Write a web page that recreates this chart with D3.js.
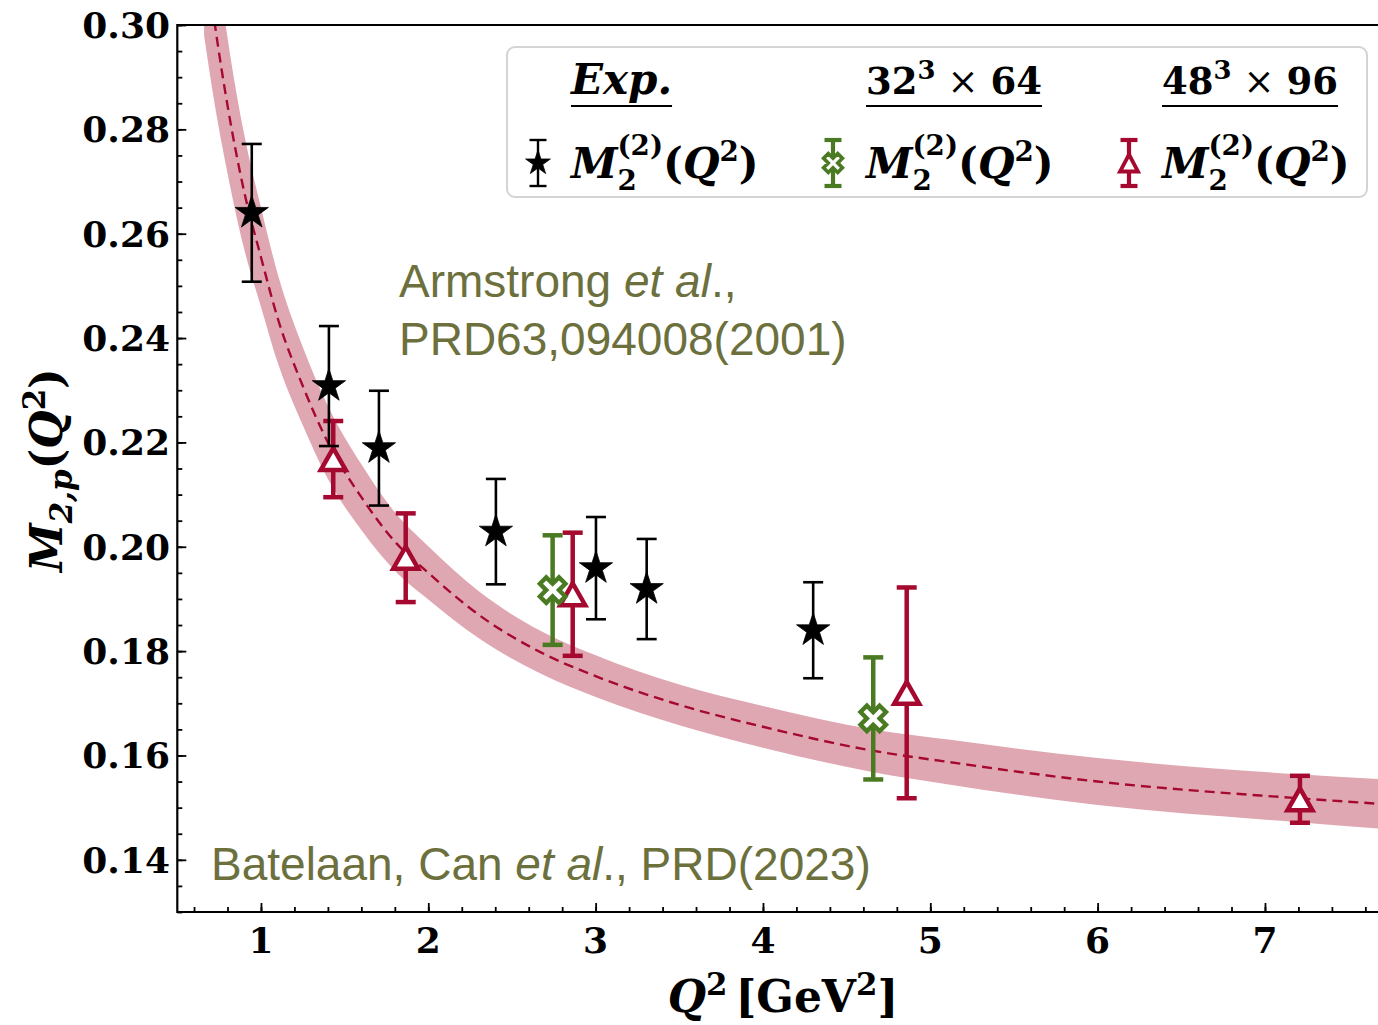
<!DOCTYPE html>
<html>
<head>
<meta charset="utf-8">
<script src="https://cdn.jsdelivr.net/npm/d3@7"></script>
<style>
  body { margin: 0; background: #fff; }
  svg { display: block; }
</style>
</head>
<body>
<svg id="chart" width="1378" height="1025"></svg>
<script>
// ---- Experimental moments (Armstrong et al., PRD63, 094008) ----
const expQ2  = [0.945, 1.406, 1.705, 2.404, 3.002, 3.305, 4.300];
const expM   = [0.2640, 0.2308, 0.2189, 0.2029, 0.1959, 0.1919, 0.1840];
const expErr = [0.0132, 0.0115, 0.0110, 0.0101, 0.0098, 0.0096, 0.0092];

// ---- Lattice, 32^3 x 64 ----
const l32Q2  = [2.743, 4.659];
const l32M   = [0.1917, 0.1671];
const l32Err = [0.0105, 0.0117];

// ---- Lattice, 48^3 x 96 ----
const l48Q2  = [1.432, 1.865, 2.863, 4.859, 7.209];
const l48M   = [0.2168, 0.1979, 0.1909, 0.1720, 0.1516];
const l48Err = [0.0073, 0.0085, 0.0118, 0.0202, 0.0045];

// ---- Fitted curve with its uncertainty band ----
const bandQ2  = [0.66, 0.725, 0.80, 0.90, 1.00, 1.10, 1.25, 1.40, 1.60, 1.80, 2.00, 2.30, 2.67, 3.00, 3.50, 4.00, 4.66, 5.12, 6.00, 7.20, 7.80];
const bandMid = [0.3160, 0.3000, 0.2846, 0.2680, 0.2555, 0.2438, 0.2308, 0.2200, 0.2095, 0.2010, 0.1950, 0.1870, 0.1798, 0.1752, 0.1697, 0.1655, 0.1609, 0.1587, 0.1550, 0.1518, 0.1505];
const bandLo  = [0.2980, 0.2845, 0.2716, 0.2570, 0.2460, 0.2353, 0.2233, 0.2130, 0.2032, 0.1954, 0.1899, 0.1825, 0.1757, 0.1712, 0.1658, 0.1615, 0.1568, 0.1544, 0.1505, 0.1472, 0.1457];
const bandHi  = [0.3340, 0.3155, 0.2976, 0.2790, 0.2650, 0.2523, 0.2383, 0.2270, 0.2158, 0.2066, 0.2001, 0.1915, 0.1839, 0.1792, 0.1736, 0.1695, 0.1650, 0.1630, 0.1595, 0.1564, 0.1553];

// ---- Axis ticks ----
const xTicks = [1, 2, 3, 4, 5, 6, 7];
const xTickLabels = ["1", "2", "3", "4", "5", "6", "7"];
const yTicks = [0.14, 0.16, 0.18, 0.20, 0.22, 0.24, 0.26, 0.28, 0.30];
const yTickLabels = ["0.14", "0.16", "0.18", "0.20", "0.22", "0.24", "0.26", "0.28", "0.30"];

// ---- Colours ----
const RED = "#a6092f";
const GREEN = "#4a7b22";
const BAND = "#dfa7b2";
const OLIVE = "#6c703d";
const SERIF = "'DejaVu Serif', serif";
const SANS = "'Liberation Sans', Arial, sans-serif";

const svg = d3.select("#chart");

const x = d3.scaleLinear().domain([0.5, 8.0]).range([177.3, 1432.3]);
const y = d3.scaleLinear().domain([0.13, 0.30]).range([912, 25]);

const plotL = x(0.5), plotR = x(8.0), plotT = y(0.30), plotB = y(0.13);

svg.append("defs").append("clipPath").attr("id", "plotclip")
  .append("rect").attr("x", plotL).attr("y", plotT)
  .attr("width", plotR - plotL).attr("height", plotB - plotT);

const plot = svg.append("g").attr("clip-path", "url(#plotclip)");

// band and central curve
const band = bandQ2.map((q, i) => ({ q, lo: bandLo[i], hi: bandHi[i], mid: bandMid[i] }));
plot.append("path")
  .datum(band)
  .attr("fill", BAND)
  .attr("d", d3.area().curve(d3.curveMonotoneX)
    .x(d => x(d.q)).y0(d => y(d.lo)).y1(d => y(d.hi)));

plot.append("path")
  .datum(band)
  .attr("fill", "none")
  .attr("stroke", RED)
  .attr("stroke-width", 2.4)
  .attr("stroke-dasharray", "10,6")
  .attr("d", d3.line().curve(d3.curveMonotoneX).x(d => x(d.q)).y(d => y(d.mid)));

// ---- marker shapes ----
function starPath(R) {
  const r = R * 0.382;
  const pts = [];
  for (let k = 0; k < 10; k++) {
    const a = -Math.PI / 2 + k * Math.PI / 5;
    const rr = k % 2 === 0 ? R : r;
    pts.push([rr * Math.cos(a), rr * Math.sin(a)]);
  }
  return "M" + pts.map(p => p[0].toFixed(2) + "," + p[1].toFixed(2)).join("L") + "Z";
}
function xFilledPath(s) {
  const base = [[-1, -3], [1, -3], [1, -1], [3, -1], [3, 1], [1, 1], [1, 3], [-1, 3], [-1, 1], [-3, 1], [-3, -1], [-1, -1]];
  const c = Math.SQRT1_2;
  const pts = base.map(([a, b]) => [(a - b) * c * s / 6, (a + b) * c * s / 6]);
  return "M" + pts.map(p => p[0].toFixed(2) + "," + p[1].toFixed(2)).join("L") + "Z";
}
function trianglePath(hw, hh) {
  return `M0,${-hh}L${hw},${hh}L${-hw},${hh}Z`;
}

function drawSeries(g, qs, ms, errs, opt) {
  const pts = qs.map((q, i) => ({ q, m: ms[i], e: errs[i] }));
  const grp = g.append("g");
  const eb = grp.selectAll("g.eb").data(pts).join("g").attr("class", "eb");
  eb.append("line")
    .attr("x1", d => x(d.q)).attr("x2", d => x(d.q))
    .attr("y1", d => y(d.m - d.e)).attr("y2", d => y(d.m + d.e))
    .attr("stroke", opt.color).attr("stroke-width", opt.lw);
  [-1, 1].forEach(sg => {
    eb.append("line")
      .attr("x1", d => x(d.q) - opt.cap).attr("x2", d => x(d.q) + opt.cap)
      .attr("y1", d => y(d.m + sg * d.e)).attr("y2", d => y(d.m + sg * d.e))
      .attr("stroke", opt.color).attr("stroke-width", opt.capw);
  });
  eb.append("path")
    .attr("transform", d => `translate(${x(d.q)},${y(d.m)})`)
    .attr("d", opt.path)
    .attr("fill", opt.fill).attr("stroke", opt.stroke).attr("stroke-width", opt.sw)
    .attr("stroke-linejoin", "miter");
}

const dataLayer = svg.append("g");
drawSeries(dataLayer, l48Q2, l48M, l48Err,
  { color: RED, lw: 4.5, cap: 10, capw: 4.5, path: trianglePath(12.5, 11), fill: "#fff", stroke: RED, sw: 4.5 });
drawSeries(dataLayer, l32Q2, l32M, l32Err,
  { color: GREEN, lw: 4.5, cap: 10, capw: 4.5, path: xFilledPath(27), fill: "#fff", stroke: GREEN, sw: 4.4 });
drawSeries(dataLayer, expQ2, expM, expErr,
  { color: "#000", lw: 2.6, cap: 10, capw: 2.6, path: starPath(17.5), fill: "#000", stroke: "#000", sw: 0.8 });

// ---- axes ----
const axisG = svg.append("g");
const yMinor = d3.range(0.13, 0.3001, 0.005);
const xMinor = d3.range(0.6, 7.81, 0.2);

axisG.append("g").attr("transform", `translate(${plotL},0)`)
  .call(d3.axisLeft(y).tickValues(yMinor).tickSize(-5).tickSizeOuter(0).tickFormat(""))
  .call(g => g.select(".domain").remove());
axisG.append("g").attr("transform", `translate(${plotL},0)`)
  .call(d3.axisLeft(y).tickValues(yTicks).tickSize(-9).tickSizeOuter(0).tickFormat(""))
  .call(g => g.select(".domain").remove());
axisG.append("g").attr("transform", `translate(0,${plotB})`)
  .call(d3.axisBottom(x).tickValues(xMinor).tickSize(-5).tickSizeOuter(0).tickFormat(""))
  .call(g => g.select(".domain").remove());
axisG.append("g").attr("transform", `translate(0,${plotB})`)
  .call(d3.axisBottom(x).tickValues(xTicks).tickSize(-9).tickSizeOuter(0).tickFormat(""))
  .call(g => g.select(".domain").remove());
axisG.selectAll(".tick line").attr("stroke", "#000").attr("stroke-width", 1.8);

// spines
axisG.append("path")
  .attr("d", `M${plotR},${plotT}H${plotL}V${plotB}H${plotR}`)
  .attr("fill", "none").attr("stroke", "#000").attr("stroke-width", 2.2);

// tick labels
axisG.selectAll("text.ytl").data(yTicks).join("text").attr("class", "ytl")
  .attr("x", 170).attr("y", d => y(d)).attr("dy", "0.36em")
  .attr("text-anchor", "end")
  .attr("font-family", SERIF).attr("font-weight", "bold").attr("font-size", 36)
  .text((d, i) => yTickLabels[i]);
axisG.selectAll("text.xtl").data(xTicks).join("text").attr("class", "xtl")
  .attr("x", d => x(d)).attr("y", 953)
  .attr("text-anchor", "middle")
  .attr("font-family", SERIF).attr("font-weight", "bold").attr("font-size", 36)
  .text((d, i) => xTickLabels[i]);

// ---- math-like text layout: pieces placed one after another ----
function mathText(parent, px, py, parts, base, anchor) {
  const g = parent.append("g");
  let cur = 0, stackX = 0, stackW = 0;
  parts.forEach(p => {
    const fs = base * (p.s || 1);
    const px0 = p.stack === "b" ? stackX : cur;
    const t = g.append("text")
      .attr("x", px0 + (p.dx || 0)).attr("y", p.dy || 0)
      .attr("font-family", SERIF).attr("font-weight", p.w || "bold")
      .attr("font-style", p.it ? "italic" : "normal")
      .attr("font-size", fs)
      .text(p.t);
    const w = t.node().getComputedTextLength() + (p.dx || 0) + (p.kern || 0);
    if (p.stack === "a") { stackX = cur; stackW = w; }
    else if (p.stack === "b") { cur = stackX + Math.max(stackW, w); }
    else { cur += w; }
  });
  const shift = anchor === "middle" ? -cur / 2 : 0;
  g.attr("transform", `translate(${px + shift},${py})`);
  return { g, width: cur };
}

// x-axis label
mathText(svg, 783, 1012, [
  { t: "Q", it: true },
  { t: "2", s: 0.7, dy: -17, kern: 8 },
  { t: "[GeV" },
  { t: "2", s: 0.7, dy: -17 },
  { t: "]" }
], 44, "middle");

// y-axis label (rotated)
const ylab = svg.append("g").attr("transform", "translate(62,470) rotate(-90)");
mathText(ylab, 0, 0, [
  { t: "M", it: true },
  { t: "2,p", s: 0.7, dy: 10, it: true },
  { t: "(" },
  { t: "Q", it: true },
  { t: "2", s: 0.7, dy: -17 },
  { t: ")" }
], 44, "middle");

// ---- annotations ----
const ann = svg.append("g").attr("fill", OLIVE).attr("font-family", SANS).attr("font-size", 46);
const a1 = ann.append("text").attr("x", 399).attr("y", 297);
a1.append("tspan").text("Armstrong ");
a1.append("tspan").attr("font-style", "italic").text("et al");
a1.append("tspan").text(".,");
ann.append("text").attr("x", 399).attr("y", 355).text("PRD63,094008(2001)");
const a2 = ann.append("text").attr("x", 211).attr("y", 880);
a2.append("tspan").text("Batelaan, Can ");
a2.append("tspan").attr("font-style", "italic").text("et al");
a2.append("tspan").text("., PRD(2023)");

// ---- legend ----
const leg = svg.append("g");
leg.append("rect").attr("x", 507).attr("y", 47).attr("width", 860).attr("height", 150)
  .attr("rx", 8).attr("fill", "#fff").attr("fill-opacity", 0.9)
  .attr("stroke", "#d4d4d4").attr("stroke-width", 2);

const legendTitles = [
  [{ t: "Exp.", it: true }],
  [{ t: "32" }, { t: "3", s: 0.7, dy: -15, kern: 12 }, { t: "×", w: "normal", kern: 12 }, { t: "64" }],
  [{ t: "48" }, { t: "3", s: 0.7, dy: -15, kern: 12 }, { t: "×", w: "normal", kern: 12 }, { t: "96" }]
];
const legendTextX = [571, 866, 1162];
const legendMarkX = [538, 833, 1129];
const legendOpts = [
  { color: "#000", lw: 2.4, capw: 2.4, path: starPath(13), fill: "#000", stroke: "#000", sw: 0.8 },
  { color: GREEN, lw: 4.2, capw: 4.2, path: xFilledPath(20), fill: "#fff", stroke: GREEN, sw: 3.6 },
  { color: RED, lw: 4.2, capw: 4.2, path: trianglePath(9, 8.5), fill: "#fff", stroke: RED, sw: 3.8 }
];
legendTitles.forEach((parts, i) => {
  const r = mathText(leg, legendTextX[i], 94, parts, i === 0 ? 42 : 37, "start");
  leg.append("line")
    .attr("x1", legendTextX[i]).attr("x2", legendTextX[i] + r.width)
    .attr("y1", 106).attr("y2", 106)
    .attr("stroke", "#000").attr("stroke-width", 2.2);

  mathText(leg, legendTextX[i], 178, [
    { t: "M", it: true },
    { t: "2", s: 0.66, dy: 12, stack: "a" },
    { t: "(2)", s: 0.66, dy: -23, stack: "b" },
    { t: "(" },
    { t: "Q", it: true },
    { t: "2", s: 0.66, dy: -17 },
    { t: ")" }
  ], 42, "start");

  const o = legendOpts[i], mx = legendMarkX[i], my = 163;
  leg.append("line").attr("x1", mx).attr("x2", mx).attr("y1", my - 23).attr("y2", my + 23)
    .attr("stroke", o.color).attr("stroke-width", o.lw);
  [-23, 23].forEach(dd => leg.append("line")
    .attr("x1", mx - 8.5).attr("x2", mx + 8.5).attr("y1", my + dd).attr("y2", my + dd)
    .attr("stroke", o.color).attr("stroke-width", o.capw));
  leg.append("path").attr("transform", `translate(${mx},${my})`).attr("d", o.path)
    .attr("fill", o.fill).attr("stroke", o.stroke).attr("stroke-width", o.sw);
});
</script>
</body>
</html>
